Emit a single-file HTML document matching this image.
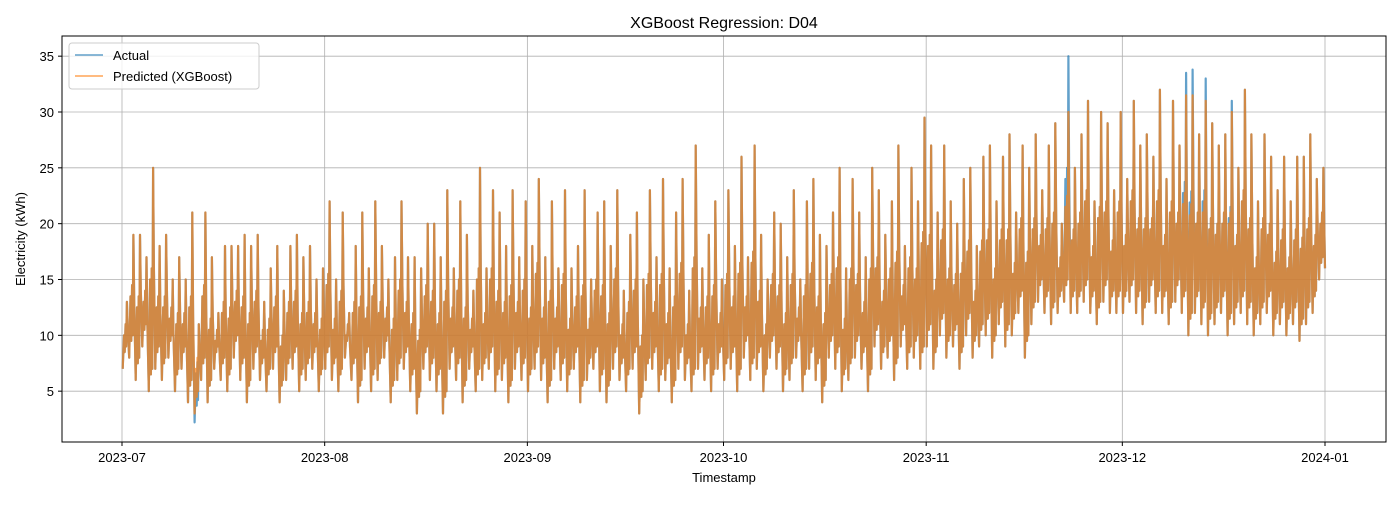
<!DOCTYPE html>
<html><head><meta charset="utf-8"><style>
body{margin:0;background:#fff;font-family:"Liberation Sans","DejaVu Sans",sans-serif}
</style></head><body>
<svg id="chart" width="1400" height="500" xmlns="http://www.w3.org/2000/svg" font-family="Liberation Sans, DejaVu Sans, sans-serif">
<rect width="1400" height="500" fill="#fff"/>
<text x="724" y="28" font-size="16" text-anchor="middle">XGBoost Regression: D04</text>
<g id="grid"></g>
<g id="series"></g>
<rect x="62" y="36" width="1324" height="406" fill="none" stroke="#000" stroke-width="1"/>
<g id="ticks"></g>
<text x="724" y="482" font-size="13" text-anchor="middle">Timestamp</text>
<text transform="translate(25,239) rotate(-90)" font-size="13" text-anchor="middle">Electricity (kWh)</text>
<g>
<rect x="69" y="43" width="190" height="46" rx="3" fill="#fff" fill-opacity="0.8" stroke="#ccc"/>
<line x1="75" y1="55" x2="103" y2="55" stroke="#1f77b4" stroke-opacity="0.7" stroke-width="1.5"/>
<text x="113" y="60" font-size="13">Actual</text>
<line x1="75" y1="76" x2="103" y2="76" stroke="#ff7f0e" stroke-opacity="0.7" stroke-width="1.5"/>
<text x="113" y="81" font-size="13">Predicted (XGBoost)</text>
</g>
</svg>
<script>
const monthLabels=["2023-07","2023-08","2023-09","2023-10","2023-11","2023-12","2024-01"];
const monthStartDays=[0,31,62,92,123,153,184];
const yTicks=[5,10,15,20,25,30,35];
const actualMax=[13,19,19,17,25,18,19,15,17,15,21,11,21,17,12,18,18,18,19,18,19,13,16,18,14,18,19,17,18,15,16,
22,15,21,12,18,21,16,22,18,15,17,22,17,17,16,20,20,17,23,16,22,19,14,25,16,23,21,18,23,17,22,
18,24,17,22,16,23,16,18,23,15,21,22,18,23,14,19,21,15,23,17,24,16,21,24,14,27,16,19,22,15,
23,18,26,17,27,19,15,21,20,17,23,15,22,24,19,18,21,25,16,24,21,17,25,23,19,22,27,18,25,22,29.5,
27,21,27,22,20,24,25,18,26,27,22,26,28,21,27,25,28,23,27,29,20,35,25,28,31,22,30,29,23,30,
24,31,27,28,26,32,24,31,27,33.5,33.8,28,33,29,27,28,31,25,32,28,22,28,26,23,26,22,26,26,28,24,25];
const actualMin=[7,8,6,9,5,7,6,8,5,7,4,2.2,6,4,7,6,5,8,6,4,7,6,5,7,4,6,7,5,6,7,5,
7,6,5,8,6,4,7,5,6,8,4,6,7,5,3,7,6,5,3,7,6,4,7,5,6,7,5,6,4,7,6,
5,7,6,4,7,6,5,7,4,6,7,5,4,7,6,5,7,3,6,7,5,6,4,7,6,5,7,6,5,7,
6,7,5,8,6,7,5,8,7,5,6,8,5,7,6,4,8,7,5,6,8,7,5,9,7,8,6,9,7,8,7,
9,7,10,8,9,7,10,8,9,10,8,11,9,10,12,8,11,13,12,11,12,13,12,12,13,12,11,13,12,12,
12,13,12,11,13,12,12,11,13,12,10,12,11,10,11,12,10,11,12,11,10,11,12,10,11,10,11,9.5,11,12,15];
const predMax=actualMax.slice();predMax[144]=30;predMax[162]=31.5;predMax[163]=31.5;predMax[165]=31;predMax[169]=30;
const predMin=actualMin.slice();predMin[11]=3;
const X0=122,PXD=1203/184;
function xs(d){return X0+d*PXD}
function ys(v){return 447-v*335/30}
const NS="http://www.w3.org/2000/svg";
const grid=document.getElementById('grid'),ticks=document.getElementById('ticks'),series=document.getElementById('series');
monthLabels.forEach((m,i)=>{const x=xs(monthStartDays[i]);
 const l=document.createElementNS(NS,'line');l.setAttribute('x1',x);l.setAttribute('x2',x);l.setAttribute('y1',36);l.setAttribute('y2',442);l.setAttribute('stroke','#b0b0b0');l.setAttribute('stroke-width','0.8');
 
 grid.appendChild(l);
 const t=document.createElementNS(NS,'line');t.setAttribute('x1',x);t.setAttribute('x2',x);t.setAttribute('y1',442);t.setAttribute('y2',446);t.setAttribute('stroke','#000');ticks.appendChild(t);
 const tx=document.createElementNS(NS,'text');tx.setAttribute('x',x);tx.setAttribute('y',462);tx.setAttribute('font-size','13');tx.setAttribute('text-anchor','middle');tx.textContent=m;
 
 ticks.appendChild(tx);});
yTicks.forEach(v=>{const y=ys(v);
 const l=document.createElementNS(NS,'line');l.setAttribute('x1',62);l.setAttribute('x2',1386);l.setAttribute('y1',y);l.setAttribute('y2',y);l.setAttribute('stroke','#b0b0b0');l.setAttribute('stroke-width','0.8');
 
 grid.appendChild(l);
 const t=document.createElementNS(NS,'line');t.setAttribute('x1',58);t.setAttribute('x2',62);t.setAttribute('y1',y);t.setAttribute('y2',y);t.setAttribute('stroke','#000');ticks.appendChild(t);
 const tx=document.createElementNS(NS,'text');tx.setAttribute('x',54);tx.setAttribute('y',y+5);tx.setAttribute('font-size','13');tx.setAttribute('text-anchor','end');tx.textContent=v;
 
 ticks.appendChild(tx);});
function build(mx,mn){let p=[];for(let d=0;d<mx.length;d++){const nx=d+1<mn.length?mn[d+1]:mn[d];
 p.push([d+0.1,mn[d]],[d+0.3,(mn[d]+mx[d])/2],[d+0.42,mn[d]+1.5],[d+0.55,(mn[d]+mx[d])/2+1],[d+0.63,mn[d]+2],[d+0.75,mx[d]],[d+0.88,(mx[d]+nx)/2]);}
 p.push([184,16]);return 'M'+p.map(q=>xs(q[0]).toFixed(1)+','+ys(q[1]).toFixed(1)).join('L');}
const pa=document.createElementNS(NS,'path');pa.setAttribute('d',build(actualMax,actualMin));pa.setAttribute('fill','none');pa.setAttribute('stroke','#1f77b4');pa.setAttribute('stroke-opacity','0.7');pa.setAttribute('stroke-width','2.2');pa.setAttribute('stroke-linejoin','round');

series.appendChild(pa);
const pp=document.createElementNS(NS,'path');pp.setAttribute('d',build(predMax,predMin));pp.setAttribute('fill','none');pp.setAttribute('stroke','#ff7f0e');pp.setAttribute('stroke-opacity','0.7');pp.setAttribute('stroke-width','2.2');pp.setAttribute('stroke-linejoin','round');

series.appendChild(pp);
</script>
</body></html>
